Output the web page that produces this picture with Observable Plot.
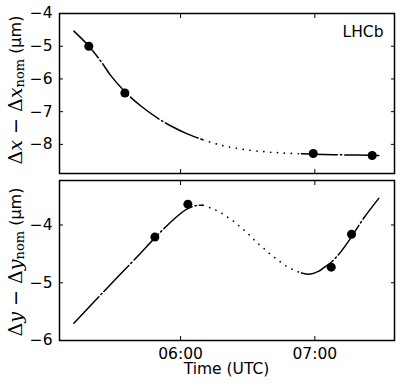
<!DOCTYPE html>
<html><head><meta charset="utf-8">
<script src="https://cdn.jsdelivr.net/npm/d3@7"></script>
<script src="https://cdn.jsdelivr.net/npm/@observablehq/plot@0.6"></script>
<style>body{margin:0;background:#fff;} svg{display:block;}</style>
</head><body><div id="chart"></div>
<script>
// ---- data ----
const day = "2012-04-22";
const xDomain = ["05:05:54", "07:35:36"];
const xTicks = ["06:00:00", "07:00:00"];
const gap = ["06:10:00", "06:54:00"]; // fit shown dotted between these times

// top panel: Δx − Δx_nom (μm)
const topYTicks = [-4, -5, -6, -7, -8];
const topYDomain = [-8.89, -4];
const topFitTime = ["05:12:20","05:19:02","05:25:01","05:28:44","05:35:26","05:42:08","05:49:35","05:55:32","06:02:59","06:10:00","06:17:52","06:26:48","06:36:38","06:44:40","06:54:00","06:59:33","07:11:29","07:25:38","07:28:35"];
const topFitValue = [-4.54,-5.00,-5.52,-5.89,-6.41,-6.82,-7.19,-7.43,-7.68,-7.86,-8.02,-8.14,-8.22,-8.26,-8.29,-8.30,-8.32,-8.33,-8.34];
const topPtTime = ["05:19:00","05:35:07","06:59:17","07:25:38"];
const topPtValue = [-5.00,-6.43,-8.28,-8.34];

// bottom panel: Δy − Δy_nom (μm)
const botYTicks = [-4, -5, -6];
const botYDomain = [-6, -3.23];
const botFitTime = ["05:12:20","05:25:44","05:41:22","05:48:50","05:57:01","06:02:59","06:07:28","06:10:00","06:13:43","06:16:40","06:19:21","06:21:54","06:24:34","06:26:48","06:29:21","06:31:43","06:33:57","06:36:30","06:38:44","06:41:14","06:43:39","06:46:20","06:49:01","06:51:49","06:54:00","06:58:05","07:01:47","07:04:01","07:07:28","07:11:29","07:15:57","07:21:53","07:28:35"];
const botFitValue = [-5.70,-5.15,-4.52,-4.21,-3.90,-3.72,-3.66,-3.66,-3.71,-3.76,-3.82,-3.89,-3.96,-4.04,-4.12,-4.21,-4.30,-4.38,-4.46,-4.54,-4.61,-4.69,-4.75,-4.80,-4.83,-4.85,-4.80,-4.74,-4.64,-4.47,-4.23,-3.88,-3.54];
const botPtTime = ["05:48:31","06:03:16","07:07:20","07:16:24"];
const botPtValue = [-4.21,-3.64,-4.73,-4.16];

// ---- drawing ----
const parse = s => new Date(`${day}T${s}Z`);
const W = 407, ML = 59, MR = 13;
const FS = 15.5;
const fmtNum = d3.format("");

function panel({fitT, fitV, ptT, ptV, yDomain, yTicks, height, marginTop, marginBottom, showX, extra = []}) {
  const fit = fitT.map((t, i) => ({t: parse(t), v: fitV[i]}));
  const pts = ptT.map((t, i) => ({t: parse(t), v: ptV[i]}));
  const g0 = parse(gap[0]), g1 = parse(gap[1]);
  const segA = fit.filter(d => d.t <= g0);
  const segB = fit.filter(d => d.t >= g0 && d.t <= g1);
  const segC = fit.filter(d => d.t >= g1);
  const lo = {x: "t", y: "v", stroke: "black", strokeWidth: 1.5, curve: "catmull-rom"};
  const ticks = xTicks.map(parse);
  return Plot.plot({
    width: W, height, marginTop, marginBottom, marginLeft: ML, marginRight: MR,
    style: {fontFamily: "DejaVu Sans", fontSize: FS + "px", color: "black", background: "white", overflow: "visible"},
    x: {type: "utc", domain: xDomain.map(parse)},
    y: {domain: yDomain},
    marks: [
      Plot.line(segA, {...lo, strokeDasharray: "36,3,1.5,3"}),
      Plot.line(segB, {...lo, strokeWidth: 1.7, strokeLinecap: "round", strokeDasharray: "0.1,6.8"}),
      Plot.line(segC, {...lo, strokeDasharray: "36,3,1.5,3"}),
      Plot.dot(pts, {x: "t", y: "v", r: 4.5, fill: "black"}),
      Plot.axisY({anchor: "left", ticks: yTicks, tickSize: -4, tickPadding: 11, tickFormat: fmtNum, label: null, fontSize: FS}),
      Plot.axisY({anchor: "right", ticks: yTicks, tickSize: -4, tickFormat: () => "", label: null}),
      Plot.axisX({anchor: "bottom", ticks, tickSize: -4, tickPadding: 11, tickFormat: showX ? d3.utcFormat("%H:%M") : () => "", label: null, fontSize: FS}),
      Plot.axisX({anchor: "top", ticks, tickSize: -4, tickFormat: () => "", label: null}),
      Plot.frame({stroke: "black", strokeWidth: 1.5}),
      ...extra
    ]
  });
}

function yLabel(svg, cy, v) {
  const t = d3.select(svg).append("text")
    .attr("transform", `translate(15,${cy}) rotate(-90)`)
    .attr("text-anchor", "middle")
    .attr("dominant-baseline", "central")
    .attr("fill", "black")
    .style("font-size", "19px");
  const serif = "'DejaVu Serif'";
  t.append("tspan").style("font-family", serif).text("Δ");
  t.append("tspan").style("font-family", serif).style("font-style", "italic").text(v);
  t.append("tspan").style("font-family", "'DejaVu Sans'").text(" − ");
  t.append("tspan").style("font-family", serif).text("Δ");
  t.append("tspan").style("font-family", serif).style("font-style", "italic").text(v);
  t.append("tspan").style("font-family", serif).style("font-size", "13px").attr("dy", "4").text("nom");
  t.append("tspan").style("font-family", "'DejaVu Sans'").style("font-size", "16px").attr("dy", "-4").text(" (μm)");
}

const H1 = 176, H2 = 211;
const topChart = panel({
  fitT: topFitTime, fitV: topFitValue, ptT: topPtTime, ptV: topPtValue,
  yDomain: topYDomain, yTicks: topYTicks, height: H1, marginTop: 13, marginBottom: 3, showX: false,
  extra: [Plot.text(["LHCb"], {frameAnchor: "top-right", dx: -11, dy: 12, lineAnchor: "top", textAnchor: "end", fontSize: 15.5})]
});
const botChart = panel({
  fitT: botFitTime, fitV: botFitValue, ptT: botPtTime, ptV: botPtValue,
  yDomain: botYDomain, yTicks: botYTicks, height: H2, marginTop: 4, marginBottom: 47, showX: true
});
yLabel(topChart, (13 + H1 - 3) / 2 - 3, "x");
yLabel(botChart, (4 + H2 - 47) / 2 + 2, "y");
d3.select(botChart).append("text")
  .attr("x", (ML + W - MR) / 2).attr("y", 198)
  .attr("text-anchor", "middle").attr("fill", "black")
  .style("font-family", "'DejaVu Sans'").style("font-size", FS + "px")
  .text("Time (UTC)");
document.getElementById("chart").append(topChart, botChart);
</script>
</body></html>
